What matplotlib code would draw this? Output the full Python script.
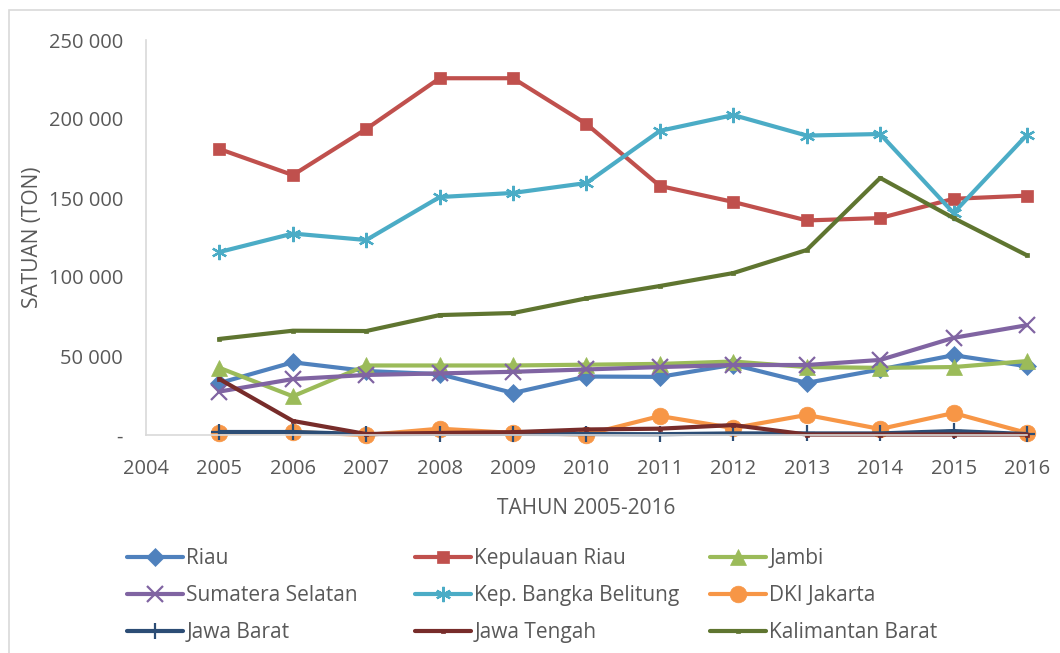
import matplotlib.pyplot as plt
from matplotlib.patches import Rectangle
from matplotlib.ticker import FuncFormatter

plt.rcParams['font.family'] = ['Open Sans', 'DejaVu Sans']

years = [2005, 2006, 2007, 2008, 2009, 2010, 2011, 2012, 2013, 2014, 2015, 2016]

riau = [32900, 46000, 40500, 38500, 26600, 37000, 36800, 44500, 33000, 41500, 50500, 43500]
kep_riau = [181000, 164500, 193700, 225800, 225800, 196800, 157600, 147500, 135800, 137300, 149500, 151500]
jambi = [42500, 24500, 44000, 44000, 44000, 44500, 45000, 46500, 43000, 42500, 43000, 46800]
sumsel = [27500, 35400, 38000, 39000, 40000, 41500, 43000, 44300, 44300, 47500, 61500, 69500]
bangka = [115800, 127500, 123400, 150600, 153200, 159500, 192500, 202500, 189500, 190500, 140500, 190000]
dki = [1300, 1900, 0, 4000, 1300, 300, 12000, 4400, 12700, 3800, 13900, 1300]
jabar = [1900, 1900, 600, 700, 700, 600, 500, 1000, 1000, 1000, 2500, 600]
jateng = [35400, 8900, 600, 1300, 1800, 3500, 4000, 6300, 300, 300, 300, 300]
kalbar = [60800, 66000, 65800, 75900, 77200, 86500, 94300, 102500, 117100, 162700, 137300, 113700]

names = ["Riau", "Kepulauan Riau", "Jambi",
         "Sumatera Selatan", "Kep. Bangka Belitung", "DKI Jakarta",
         "Jawa Barat", "Jawa Tengah", "Kalimantan Barat"]
series = [riau, kep_riau, jambi, sumsel, bangka, dki, jabar, jateng, kalbar]
colors = ["#4F81BD", "#C0504D", "#9BBB59", "#8064A2", "#4BACC6", "#F79646",
          "#2C4D75", "#772C2A", "#5F7530"]
markers = ["D", "s", "^", "x", (6, 2, 0), "o", "+", "s", "s"]
msizes = [9, 9, 11, 11, 11, 12, 11, 3, 3]

fig = plt.figure(figsize=(10.6, 6.53), dpi=100)
fig.patches.append(Rectangle((9/1060, -0.01), 1.1, 1 - 10/653 + 0.01, transform=fig.transFigure,
                             fill=False, edgecolor="#d9d9d9", linewidth=1.2))
ax = fig.add_axes([146/1060, 1 - 435/653, (1027 - 146)/1060, 395/653])

handles = []
for name, vals, c, m, ms in zip(names, series, colors, markers, msizes):
    h, = ax.plot(years, vals, color=c, marker=m, markersize=ms, linewidth=3,
                 markeredgewidth=1.6 if m in ("x", "+") or isinstance(m, tuple) else 0.5,
                 markeredgecolor=c, label=name, solid_capstyle='round', clip_on=False)
    handles.append(h)

ax.set_xlim(2004, 2016)
ax.set_ylim(0, 250000)
ax.set_xticks(range(2004, 2017))
ax.set_yticks(range(0, 250001, 50000))
ax.yaxis.set_major_formatter(FuncFormatter(lambda v, p: "-" if v == 0 else f"{int(v):,}".replace(",", " ")))

for s in ["top", "right"]:
    ax.spines[s].set_visible(False)
for s in ["left", "bottom"]:
    ax.spines[s].set_color("#d9d9d9")
    ax.spines[s].set_linewidth(1.2)
ax.tick_params(length=0, labelsize=14.5, colors="#595959")
ax.tick_params(axis="x", pad=17)
ax.tick_params(axis="y", pad=16.5)

ax.set_xlabel("TAHUN 2005-2016", fontsize=15, color="#595959", labelpad=14)
ax.set_ylabel("SATUAN (TON)", fontsize=15, color="#595959", labelpad=4)

col_x = [127/1060, 415/1060, 710/1060]
for i in range(3):
    lg = fig.legend(handles=[handles[i], handles[i + 3], handles[i + 6]], loc="upper left",
                    bbox_to_anchor=(col_x[i], 1 - 548/653), frameon=False, fontsize=15,
                    handlelength=2.7, handletextpad=0.15, labelspacing=0.77,
                    borderpad=0, borderaxespad=0, labelcolor="#595959")

fig.savefig("out.png", dpi=100)
